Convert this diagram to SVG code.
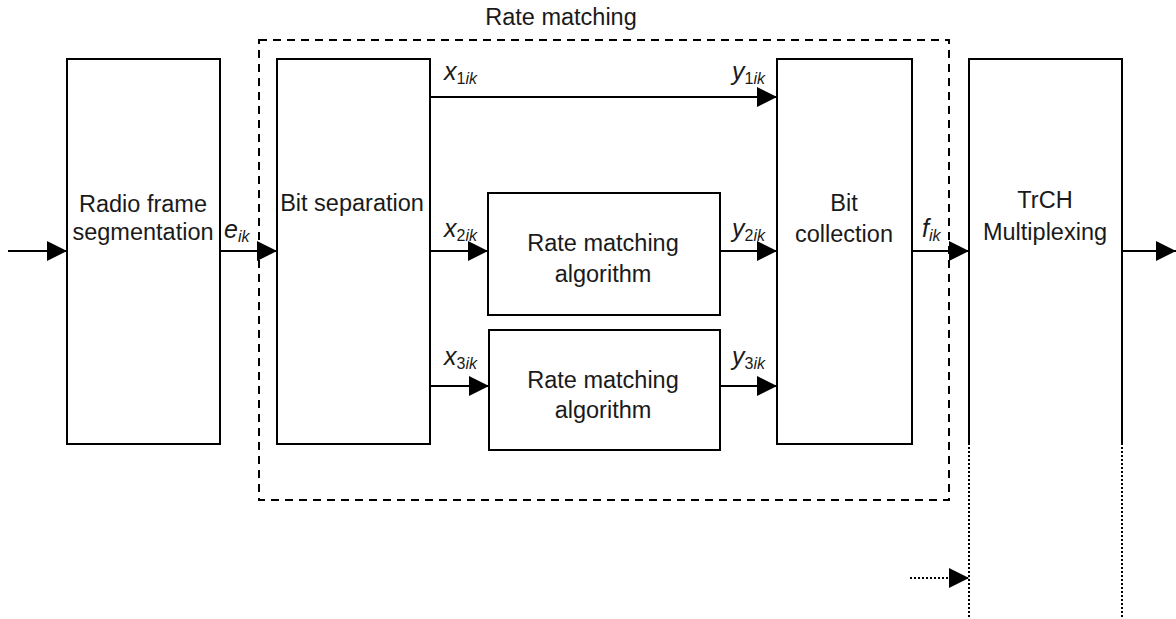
<svg xmlns="http://www.w3.org/2000/svg" width="1176" height="619" viewBox="0 0 1176 619">
<style>
.box{fill:#fff;stroke:#000;stroke-width:2}
.lbl{font-family:"Liberation Sans",Arial,sans-serif;font-size:23.5px;fill:#1a1a1a;text-anchor:middle}
.var{font-family:"Liberation Sans",Arial,sans-serif;font-size:25px;font-style:italic;fill:#1a1a1a}
.sub{font-size:16px}
.up{font-style:normal}
.ln{stroke:#000;stroke-width:2;fill:none}
</style>
<defs>
<marker id="ah" markerWidth="20" markerHeight="20" viewBox="0 0 20 20" refX="20" refY="10" orient="auto" markerUnits="userSpaceOnUse">
<path d="M0,0 L20,10 L0,20 Z" fill="#000"/>
</marker>
</defs>
<rect width="1176" height="619" fill="#fff"/>
<g id="ratematching-group">
<rect x="259" y="40" width="690" height="460" fill="none" stroke="#000" stroke-width="2" stroke-dasharray="8,6"/>
<text class="lbl" x="561" y="25">Rate matching</text>
</g>
<g id="radio">
<rect class="box" x="67" y="59" width="153" height="385"/>
<text class="lbl" x="143" y="212">Radio frame</text>
<text class="lbl" x="143" y="240">segmentation</text>
</g>
<g id="bitsep">
<rect class="box" x="277" y="59" width="153" height="385"/>
<text class="lbl" x="352" y="211">Bit separation</text>
</g>
<g id="rma1">
<rect class="box" x="488" y="193" width="232" height="122"/>
<text class="lbl" x="603" y="251">Rate matching</text>
<text class="lbl" x="603" y="282">algorithm</text>
</g>
<g id="rma2">
<rect class="box" x="489" y="330" width="231" height="120"/>
<text class="lbl" x="603" y="388">Rate matching</text>
<text class="lbl" x="603" y="418">algorithm</text>
</g>
<g id="bitcol">
<rect class="box" x="777" y="59" width="135" height="385"/>
<text class="lbl" x="844" y="211">Bit</text>
<text class="lbl" x="844" y="242">collection</text>
</g>
<g id="trch">
<path class="ln" d="M969,443 L969,59 L1122,59 L1122,443"/>
<path d="M969,443 L969,619 M1122,443 L1122,619" stroke="#000" stroke-width="2" stroke-dasharray="2,2" fill="none"/>
<text class="lbl" x="1045" y="208">TrCH</text>
<text class="lbl" x="1045" y="240">Multiplexing</text>
</g>
<g id="connectors">
<line class="ln" x1="8" y1="251" x2="67" y2="251" marker-end="url(#ah)"/>
<line class="ln" x1="220" y1="251" x2="277" y2="251" marker-end="url(#ah)"/>
<line class="ln" x1="430" y1="97" x2="777" y2="97" marker-end="url(#ah)"/>
<line class="ln" x1="430" y1="251" x2="488" y2="251" marker-end="url(#ah)"/>
<line class="ln" x1="430" y1="386" x2="489" y2="386" marker-end="url(#ah)"/>
<line class="ln" x1="720" y1="251" x2="777" y2="251" marker-end="url(#ah)"/>
<line class="ln" x1="720" y1="386" x2="777" y2="386" marker-end="url(#ah)"/>
<line class="ln" x1="912" y1="251" x2="969" y2="251" marker-end="url(#ah)"/>
<line class="ln" x1="1122" y1="251" x2="1176" y2="251" marker-end="url(#ah)"/>
<line x1="910" y1="578" x2="969" y2="578" stroke="#000" stroke-width="2" stroke-dasharray="2,2" marker-end="url(#ah)"/>
</g>
<g id="labels">
<text class="var" x="224" y="238">e<tspan class="sub" dy="4">ik</tspan></text>
<text class="var" x="444" y="80">x<tspan class="sub up" dy="4">1</tspan><tspan class="sub">ik</tspan></text>
<text class="var" x="732" y="80">y<tspan class="sub up" dy="4">1</tspan><tspan class="sub">ik</tspan></text>
<text class="var" x="444" y="237">x<tspan class="sub up" dy="4">2</tspan><tspan class="sub">ik</tspan></text>
<text class="var" x="732" y="237">y<tspan class="sub up" dy="4">2</tspan><tspan class="sub">ik</tspan></text>
<text class="var" x="444" y="365">x<tspan class="sub up" dy="4">3</tspan><tspan class="sub">ik</tspan></text>
<text class="var" x="732" y="365">y<tspan class="sub up" dy="4">3</tspan><tspan class="sub">ik</tspan></text>
<text class="var" x="922" y="237">f<tspan class="sub" dy="4">ik</tspan></text>
</g>
</svg>
